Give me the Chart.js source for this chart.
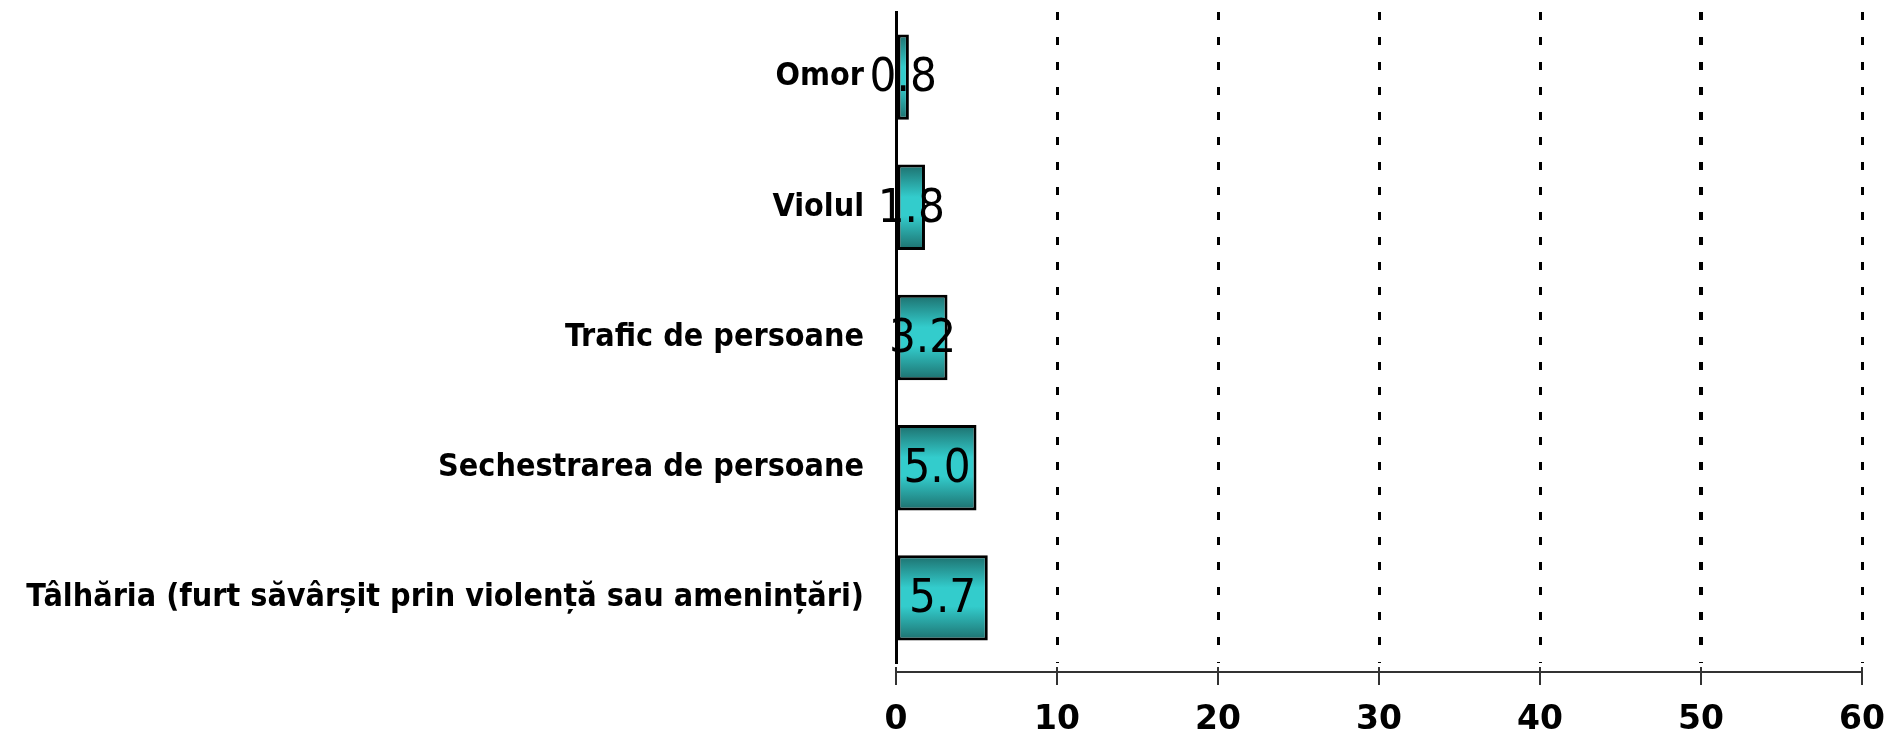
<!DOCTYPE html>
<html lang="ro">
<head>
    <meta charset="UTF-8">
    <title>Infracțiuni</title>
    <script src="https://cdn.jsdelivr.net/npm/chart.js"></script>
    <style>
        html, body { margin: 0; padding: 0; background: #fff; }
        .wrap { width: 1884px; height: 731px; }
    </style>
</head>
<body>
    <div class="wrap"><canvas id="crimeChart" width="1884" height="731"></canvas></div>

    <script>
        // Date
        const categories = [
            'Omor',
            'Violul',
            'Trafic de persoane',
            'Sechestrarea de persoane',
            'Tâlhăria (furt săvârșit prin violență sau amenințări)'
        ];
        const values = [0.8, 1.8, 3.2, 5.0, 5.7];
        const xTicks = [0, 10, 20, 30, 40, 50, 60];

        const narrow = "'Liberation Sans Narrow', 'DejaVu Sans Condensed', sans-serif";
        const barPct = 0.81;

        // vertical teal gradient across each bar
        function barFill(context) {
            const chart = context.chart;
            const yScale = chart.scales.y;
            if (!chart.chartArea || !yScale) return '#2fb5b3';
            const center = yScale.getPixelForValue(context.dataIndex);
            const half = (yScale.height / categories.length) * barPct * barPct / 2;
            const g = chart.ctx.createLinearGradient(0, center - half, 0, center + half);
            g.addColorStop(0, '#1d6f6d');
            g.addColorStop(0.38, '#33cccc');
            g.addColorStop(0.6, '#33cccc');
            g.addColorStop(1, '#1d6f6d');
            return g;
        }

        // value labels centred in the bars
        const valueLabels = {
            id: 'valueLabels',
            afterDatasetsDraw(chart) {
                const ctx = chart.ctx;
                const meta = chart.getDatasetMeta(0);
                ctx.save();
                ctx.font = '47px ' + narrow;
                ctx.fillStyle = '#000';
                ctx.textAlign = 'center';
                ctx.textBaseline = 'middle';
                meta.data.forEach((bar, i) => {
                    ctx.fillText(values[i].toFixed(1), (bar.x + bar.base) / 2, bar.y + 2);
                });
                ctx.restore();
            }
        };

        // detached x axis line with ticks below the plot
        const bottomAxis = {
            id: 'bottomAxis',
            afterDraw(chart) {
                const ctx = chart.ctx;
                const x = chart.scales.x;
                const y0 = chart.chartArea.bottom + 9;
                ctx.save();
                ctx.strokeStyle = '#333';
                ctx.lineWidth = 2;
                ctx.beginPath();
                ctx.moveTo(x.getPixelForValue(xTicks[0]), y0);
                ctx.lineTo(x.getPixelForValue(xTicks[xTicks.length - 1]), y0);
                xTicks.forEach(t => {
                    const px = x.getPixelForValue(t);
                    ctx.moveTo(px, y0 - 5);
                    ctx.lineTo(px, y0 + 13);
                });
                ctx.stroke();
                ctx.restore();
            }
        };

        const config = {
            type: 'bar',
            data: {
                labels: categories,
                datasets: [{
                    data: values,
                    backgroundColor: barFill,
                    borderColor: '#000',
                    borderWidth: 3,
                    borderSkipped: false,
                    barPercentage: barPct,
                    categoryPercentage: barPct
                }]
            },
            options: {
                indexAxis: 'y',
                responsive: false,
                animation: false,
                layout: { padding: { top: 12, right: 22, left: 0, bottom: 0 } },
                plugins: {
                    legend: { display: false },
                    tooltip: { enabled: false }
                },
                scales: {
                    x: {
                        min: 0,
                        max: 60,
                        afterBuildTicks: s => { s.ticks = xTicks.map(v => ({ value: v })); },
                        afterFit: s => {
                            s.height = 68;
                            s.paddingLeft = 0;
                            s.paddingRight = 0;
                        },
                        grid: {
                            drawTicks: false,
                            color: ctx => ctx.tick && ctx.tick.value === 0 ? 'rgba(0,0,0,0)' : '#000',
                            lineWidth: ctx => ctx.tick && ctx.tick.value === 50 ? 4 : 3
                        },
                        border: { display: false, dash: [8, 17] },
                        ticks: {
                            padding: 38,
                            color: '#000',
                            font: { family: "'DejaVu Sans', sans-serif", size: 33, weight: 'bold' }
                        }
                    },
                    y: {
                        afterFit: s => {
                            s.width = 896;
                            s.paddingTop = 0;
                            s.paddingBottom = 0;
                        },
                        grid: { display: false },
                        border: { display: true, color: '#000', width: 3 },
                        ticks: {
                            padding: 24,
                            color: '#000',
                            font: { family: narrow, size: 32, weight: 'bold' }
                        }
                    }
                }
            },
            plugins: [valueLabels, bottomAxis]
        };

        new Chart(document.getElementById('crimeChart'), config);
    </script>
</body>
</html>
